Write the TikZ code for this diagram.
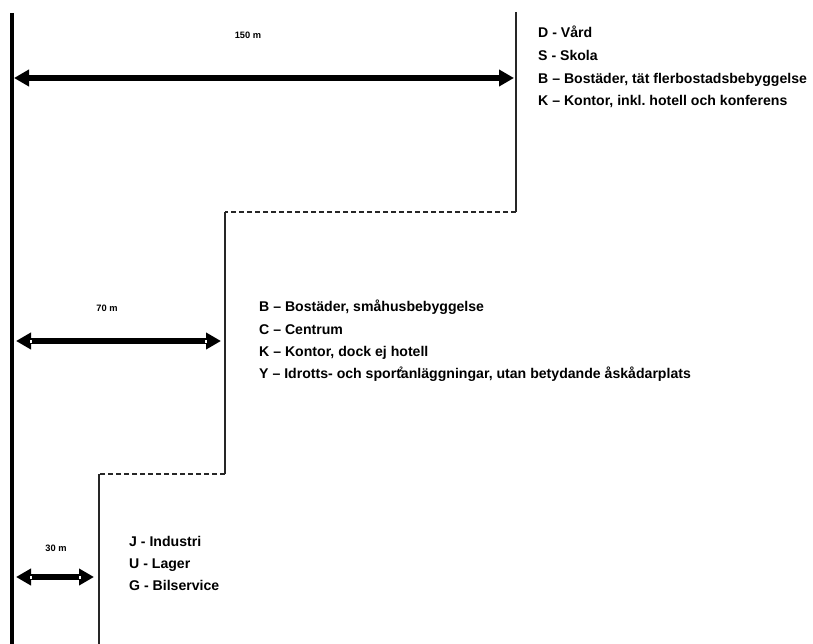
\documentclass[tikz,border=0pt]{standalone}
\usepackage{fontspec}
\setmainfont{Liberation Sans}
\usetikzlibrary{arrows.meta}
\begin{document}
\frenchspacing
\begin{tikzpicture}[x=1pt,y=-1pt,
  item/.style={anchor=base west, font=\bfseries\fontsize{14.1}{16}\selectfont, inner sep=0pt},
  dimlabel/.style={font=\bfseries\fontsize{9.3}{11}\selectfont, inner sep=0pt},
  dimarrow/.style={line width=5.5pt, {Triangle[length=15pt,width=16pt]}-{Triangle[length=15pt,width=16pt]}},
  wall/.style={line width=1.3pt, draw=black!85},
  stepdash/.style={wall, dash pattern=on 5pt off 3pt},
  mainline/.style={line width=3.5pt},
  tick/.style={fill=white, draw=none}]
\useasboundingbox (0,0) rectangle (813,644);
% main reference line
\coordinate (mtop) at (12,13);
\coordinate (mbot) at (12,644);
\draw[mainline] (mtop) -- (mbot);
% stepped boundary
\coordinate (s1) at (516,12);
\coordinate (s2) at (516,212);
\coordinate (s3) at (225,212);
\coordinate (s4) at (225,474);
\coordinate (s5) at (99,474);
\coordinate (s6) at (99,644);
\draw[wall] (s1) -- (s2);
\draw[stepdash] (s2) -- (s3);
\draw[wall] (s3) -- (s4);
\draw[stepdash] (s4) -- (s5);
\draw[wall] (s5) -- (s6);
% dimension arrows
\coordinate (a1l) at (14,78);
\coordinate (a1r) at (514,78);
\coordinate (a2l) at (16,341);
\coordinate (a2r) at (221,341);
\coordinate (a3l) at (16,577);
\coordinate (a3r) at (94,577);
\draw[dimarrow] (a1l) -- (a1r);
\draw[dimarrow] (a2l) -- (a2r);
\draw[dimarrow] (a3l) -- (a3r);
\fill[tick] (30,339.5) rectangle (32,342.5);
\fill[tick] (205,339.5) rectangle (207,342.5);
\fill[tick] (30,575.5) rectangle (32,578.5);
\fill[tick] (79,575.5) rectangle (81,578.5);
\node[dimlabel] (l150) at (248,35) {150 m};
\node[dimlabel] (l70) at (107,308) {70 m};
\node[dimlabel] (l30) at (56,548) {30 m};
% top block
\node[item] (t1) at (538,38) {D - Vård};
\node[item] (t2) at (538,61) {S - Skola};
\node[item] (t3) at (538,83.5) {B – Bostäder, tät flerbostadsbebyggelse};
\node[item] (t4) at (538,105.5) {K – Kontor, inkl. hotell och konferens};
% middle block
\node[item] (m1) at (259,311.5) {B – Bostäder, småhusbebyggelse};
\node[item] (m2) at (259,334) {C – Centrum};
\node[item] (m3) at (259,356) {K – Kontor, dock ej hotell};
\node[item] (m4) at (259,378.5) {Y – Idrotts- och sport\rlap{\kern-1.5pt\raisebox{7pt}{\fontsize{6.5}{7}\selectfont 2}}anläggningar, utan betydande åskådarplats};
% bottom block
\node[item] (b1) at (129,546.5) {J - Industri};
\node[item] (b2) at (129,568.5) {U - Lager};
\node[item] (b3) at (129,590.5) {G - Bilservice};
\end{tikzpicture}
\end{document}
